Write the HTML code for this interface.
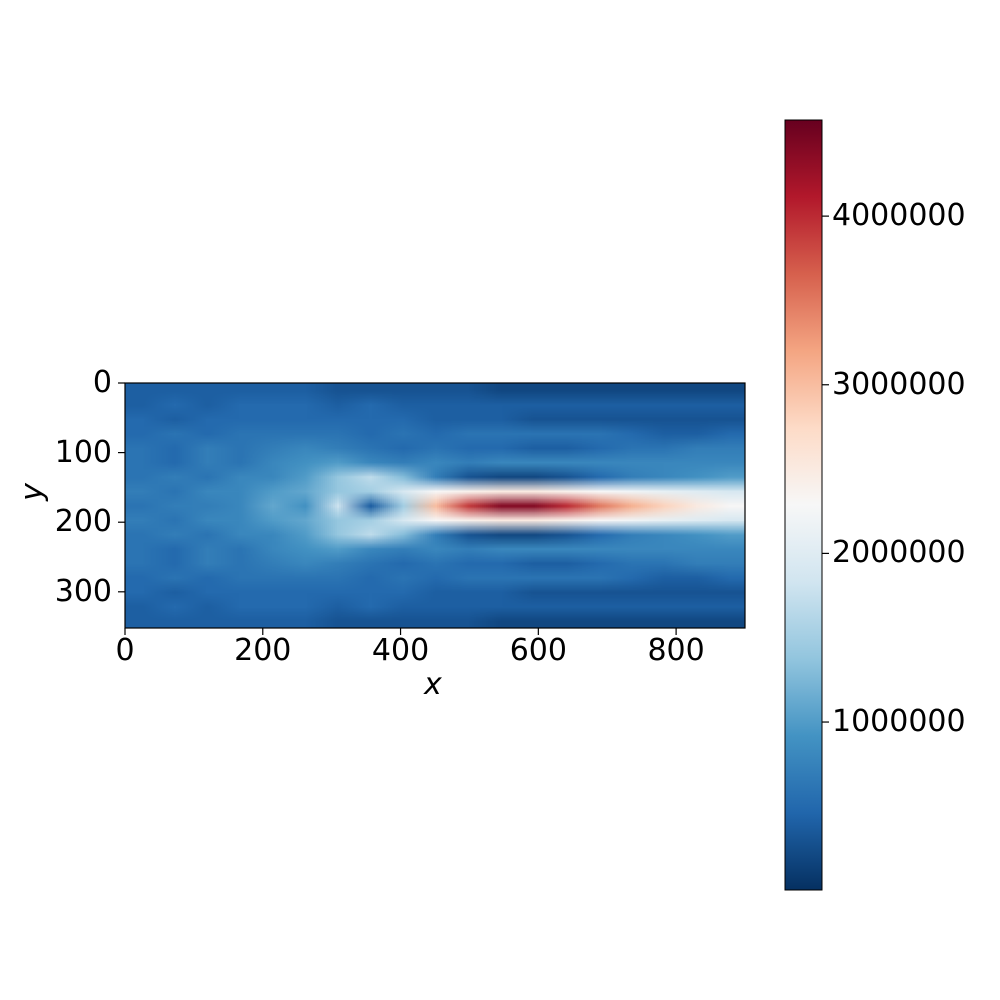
<!DOCTYPE html>
<html><head><meta charset="utf-8"><style>
html,body{margin:0;padding:0;background:#fff;}
#wrap{position:relative;width:1000px;height:1000px;font-family:"DejaVu Sans","Liberation Sans",sans-serif;color:#000;}
.t{position:absolute;font-size:30px;line-height:30px;white-space:nowrap;}
</style></head><body>
<div id="wrap">
<svg id="svg" width="1000" height="1000" style="position:absolute;left:0;top:0">
<defs>
<linearGradient id="cmap" x1="0" y1="1" x2="0" y2="0">
<stop offset="0" stop-color="#053061"/><stop offset="0.1" stop-color="#2166ac"/><stop offset="0.2" stop-color="#4393c3"/><stop offset="0.3" stop-color="#92c5de"/><stop offset="0.4" stop-color="#d1e5f0"/><stop offset="0.5" stop-color="#f7f7f7"/><stop offset="0.6" stop-color="#fddbc7"/><stop offset="0.7" stop-color="#f4a582"/><stop offset="0.8" stop-color="#d6604d"/><stop offset="0.9" stop-color="#b2182b"/><stop offset="1" stop-color="#67001f"/>
</linearGradient>
</defs>
<rect x="785" y="120" width="37" height="770" fill="url(#cmap)" stroke="#000" stroke-width="1"/>
<g id="axes"></g>
</svg>
<canvas id="heat" width="19" height="17" style="position:absolute;left:125px;top:383px;width:620px;height:245px;"></canvas>
<svg width="1000" height="1000" style="position:absolute;left:0;top:0;pointer-events:none">
<rect x="125" y="383" width="620" height="245" fill="none" stroke="#000" stroke-width="1.2"/>
</svg>
<div class="t" style="left:424px;top:670px;font-style:italic">x</div>
<div class="t" style="left:24px;top:477px;font-style:italic;transform:rotate(-90deg)">y</div>
</div>
<script>
const xTicks=[0,200,400,600,800];
const yTicks=[0,100,200,300];
const cbTicks=[1000000,2000000,3000000,4000000];
const xMax=900, yMax=352, vMin=4000, vMax=4570000;
// values in millions; columns x=0..900 step 50, rows y centered at 178 spaced 22
const r0=[0.6,0.7,0.7,0.8,1.1,0.9,1.8,0.4,1.5,3.0,3.9,4.4,4.4,4.0,3.5,3.1,2.8,2.5,2.3];
const r22=[0.7,0.6,0.8,0.8,1.0,1.1,1.4,1.5,1.9,2.3,2.4,2.5,2.5,2.4,2.3,2.2,2.1,2.0,1.9];
const r44=[0.6,0.7,0.6,0.8,0.8,1.0,1.4,1.7,1.3,0.7,0.3,0.2,0.2,0.3,0.5,0.7,0.8,0.9,1.0];
const r66=[0.6,0.5,0.7,0.6,0.8,0.9,1.0,0.8,0.7,0.8,0.7,0.8,0.8,0.8,0.8,0.8,0.8,0.8,0.8];
const r88=[0.6,0.5,0.7,0.6,0.7,0.8,0.7,0.6,0.5,0.6,0.5,0.5,0.4,0.4,0.5,0.6,0.6,0.7,0.7];
const r110=[0.5,0.6,0.5,0.6,0.6,0.6,0.6,0.5,0.6,0.5,0.6,0.6,0.6,0.6,0.6,0.5,0.4,0.4,0.5];
const r132=[0.5,0.4,0.5,0.5,0.5,0.5,0.5,0.5,0.5,0.4,0.4,0.4,0.3,0.3,0.3,0.3,0.3,0.3,0.3];
const r154=[0.4,0.5,0.4,0.5,0.5,0.5,0.4,0.5,0.4,0.4,0.4,0.4,0.4,0.4,0.4,0.4,0.4,0.4,0.4];
const r176=[0.4,0.4,0.4,0.4,0.4,0.4,0.3,0.3,0.3,0.3,0.3,0.2,0.2,0.2,0.2,0.2,0.2,0.2,0.2];
const grid=[r176,r154,r132,r110,r88,r66,r44,r22,r0,r22,r44,r66,r88,r110,r132,r154,r176];

const stops=["#053061","#2166ac","#4393c3","#92c5de","#d1e5f0","#f7f7f7","#fddbc7","#f4a582","#d6604d","#b2182b","#67001f"].map(h=>[1,3,5].map(i=>parseInt(h.substr(i,2),16)));
function cmap(v){let t=(v-vMin)/(vMax-vMin);t=Math.max(0,Math.min(1,t))*10;let i=Math.min(9,Math.floor(t)),f=t-i;return stops[i].map((c,k)=>Math.round(c+(stops[i+1][k]-c)*f));}
const cv=document.getElementById('heat'),ctx=cv.getContext('2d');
const img=ctx.createImageData(19,17);
grid.forEach((row,j)=>row.forEach((v,i)=>{const c=cmap(v*1e6);const p=(j*19+i)*4;img.data[p]=c[0];img.data[p+1]=c[1];img.data[p+2]=c[2];img.data[p+3]=255;}));
ctx.putImageData(img,0,0);

const X=v=>125+v/xMax*620, Y=v=>383+v/yMax*245, CB=v=>890-(v-vMin)/(vMax-vMin)*770;
const ns="http://www.w3.org/2000/svg", g=document.getElementById('axes'), wrap=document.getElementById('wrap');
function line(x1,y1,x2,y2,name){const l=document.createElementNS(ns,'line');l.setAttribute('x1',x1);l.setAttribute('y1',y1);l.setAttribute('x2',x2);l.setAttribute('y2',y2);l.setAttribute('stroke','#000');l.setAttribute('stroke-width','1.2');


g.appendChild(l);}
function label(txt,x,y,align,name){const d=document.createElement('div');d.className='t';d.textContent=txt;d.style.top=(y-15)+'px';
if(align==='c'){d.style.left=(x-100)+'px';d.style.width='200px';d.style.textAlign='center';}
else if(align==='r'){d.style.left=(x-200)+'px';d.style.width='200px';d.style.textAlign='right';}
else d.style.left=x+'px';


wrap.appendChild(d);}
xTicks.forEach(v=>{line(X(v),628,X(v),635,'x-tick');label(String(v),X(v),651,'c','x-tick-label');});
yTicks.forEach(v=>{line(118,Y(v),125,Y(v),'y-tick');label(String(v),112,Y(v),'r','y-tick-label');});
cbTicks.forEach(v=>{line(822,CB(v),829,CB(v),'colorbar-tick');label(String(v),832,CB(v),'l','colorbar-tick-label');});
</script>
</body></html>
